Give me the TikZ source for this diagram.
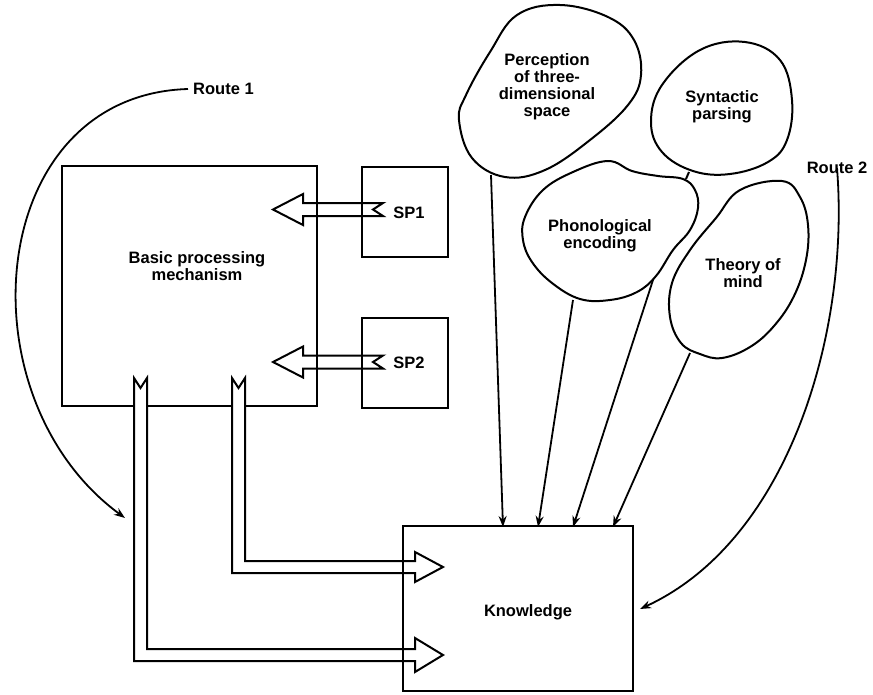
\documentclass[tikz,border=0pt]{standalone}
\usepackage{fontspec}
\setmainfont{Liberation Sans}
\usetikzlibrary{arrows.meta}
\begin{document}
\begin{tikzpicture}[x=1pt,y=-1pt,
  ln/.style={line width=2pt, line join=round},
  box/.style={draw, line width=2pt, inner sep=0pt},
  lbl/.style={font=\bfseries\fontsize{16.5}{17}\selectfont, align=center, inner sep=0pt},
  conn/.style={line width=1.8pt, -{Stealth[length=11pt,width=8pt]}},
  hollow/.style={line width=2pt, line join=miter, fill=white},
  blob/.style={line width=2pt, smooth cycle, tension=0.65}
]
\useasboundingbox (0,0) rectangle (873,694);

% boxes
\node[box, minimum width=255pt, minimum height=240pt] (bpm) at (189.5,286) {};
\node[lbl] (bpmt) at (197,266) {Basic processing\\mechanism};
\node[box, minimum width=86pt, minimum height=90pt] (sp1) at (405,212) {};
\node[lbl] (sp1t) at (409,213) {SP1};
\node[box, minimum width=86pt, minimum height=90pt] (sp2) at (405,363) {};
\node[lbl] (sp2t) at (409,363) {SP2};

% hollow arrows from SP1 / SP2
\draw[hollow, fill=none] (383,203) -- (373,209.5) -- (383,216) -- (303,216) -- (303,225) -- (273,209.5) -- (303,194) -- (303,203) -- cycle;
\draw[hollow, fill=none] (383,355.5) -- (373,362) -- (383,368.5) -- (303,368.5) -- (303,377.5) -- (273,362) -- (303,346.5) -- (303,355.5) -- cycle;

% hollow arrows from mechanism to knowledge
\draw[hollow] (232,378) -- (238.5,388) -- (245,378) -- (245,561) -- (415,561) -- (415,552) -- (443,567) -- (415,582) -- (415,573) -- (232,573) -- cycle;
\draw[hollow] (134,378) -- (140.5,388) -- (147,378) -- (147,649) -- (415,649) -- (415,638) -- (443,655) -- (415,672) -- (415,661) -- (134,661) -- cycle;

% knowledge
\node[box, minimum width=230pt, minimum height=165pt] (know) at (518,608.5) {};
\node[lbl] (knowt) at (528,612) {Knowledge};

% blobs
\draw[blob] plot coordinates {(517,15) (560,5) (608,17) (634,40) (641,75) (628,105) (590,140) (545,170) (505,177) (472,158) (459,120) (466,95) (490,52)};
\node[lbl] (perc) at (547,87) {Perception\\of three-\\dimensional\\space};

\draw[blob] plot coordinates {(700,50) (745,42) (780,60) (792,100) (787,140) (768,162) (730,174) (693,171) (662,152) (651,122) (662,85)};
\node[lbl] (synt) at (722,107) {Syntactic\\parsing};

\draw[blob] plot coordinates {(608,161) (573,172) (543,190) (525,217) (523,240) (532,262) (552,283) (580,299) (610,300) (637,292) (656,276) (673,250) (690,230) (698,208) (695,190) (683,179) (658,176) (632,171)};
\node[lbl] (phon) at (600,236) {Phonological\\encoding};
\draw[ln] (686,179) -- (689,172);

\draw[blob] plot coordinates {(782,181) (740,190) (716,218) (690,250) (672,283) (670,317) (681,343) (700,354) (722,358) (750,347) (774,326) (794,296) (806,260) (808,225) (800,197)};
\node[lbl] (thm) at (743,273) {Theory of\\mind};

% connectors blob -> knowledge
\coordinate (s1) at (491,175);
\coordinate (s2) at (573,300);
\coordinate (s3) at (653,280);
\coordinate (s4) at (690,353);
\coordinate (k1) at (503,527);
\coordinate (k2) at (538,527);
\coordinate (k3) at (573,527);
\coordinate (k4) at (613,527);
\draw[conn] (s1) -- (k1);
\draw[conn] (s2) -- (k2);
\draw[conn] (s3) -- (k3);
\draw[conn] (s4) -- (k4);

% routes
\node[lbl, anchor=west] (r1) at (193,89) {Route 1};
\coordinate (r1end) at (125,518);
\draw[conn] ([xshift=-5pt]r1.west) .. controls (-15,95) and (-40,397) .. (r1end);

\node[lbl] (r2) at (837,168) {Route 2};
\coordinate (r2end) at (640,609);
\draw[conn] ([yshift=6pt]r2.south) .. controls (850,330) and (790,540) .. (r2end);
\end{tikzpicture}
\end{document}
